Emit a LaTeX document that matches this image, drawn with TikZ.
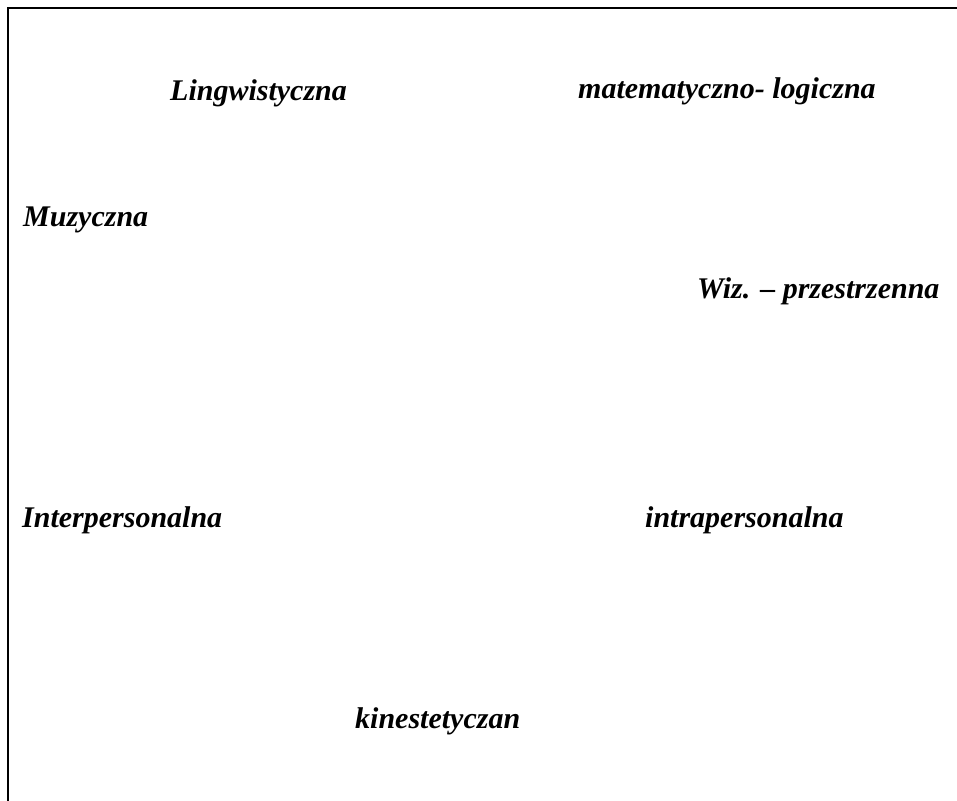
\documentclass[tikz,border=0pt]{standalone}
\usepackage{fontspec}
\setmainfont{Liberation Serif}
\begin{document}
\begin{tikzpicture}[x=1pt,y=1pt,
  etykieta/.style={anchor=base west,inner sep=0pt,font=\fontsize{30}{36}\selectfont\bfseries\itshape}]
\useasboundingbox (0,0) rectangle (957,800);
\coordinate (rdol) at (8,-5);
\coordinate (rlewy) at (8,792);
\coordinate (rprawy) at (965,792);
\draw[line width=2pt] (rdol) -- (rlewy) -- (rprawy);

\node[etykieta] (ling) at (170,699) {Lingwistyczna};
\node[etykieta] (mat) at (578,701) {matematyczno- logiczna};
\node[etykieta] (muz) at (23,573) {Muzyczna};
\node[etykieta] (wiz) at (697,501) {Wiz. – przestrzenna};
\node[etykieta] (inter) at (22,272) {Interpersonalna};
\node[etykieta] (intra) at (645,272) {intrapersonalna};
\node[etykieta] (kin) at (355,72) {kinestetyczan};
\end{tikzpicture}
\end{document}
